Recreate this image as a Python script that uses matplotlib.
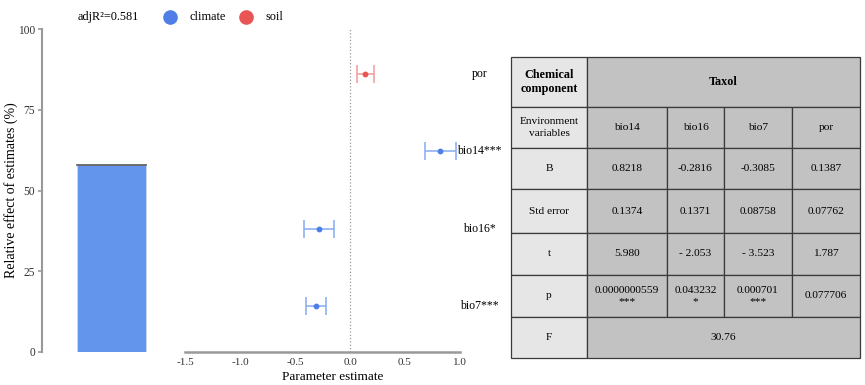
import matplotlib.pyplot as plt
from matplotlib.patches import Rectangle
import numpy as np

plt.rcParams['font.family'] = ['Liberation Serif', 'DejaVu Serif']

# 数据
variables = ['bio7', 'bio16', 'bio14', 'por']
labels = ['bio7***', 'bio16*', 'bio14***', 'por']
groups = ['climate', 'climate', 'climate', 'soil']
estimates = [-0.3085, -0.2816, 0.8218, 0.1387]
std_errors = [0.08758, 0.1371, 0.1374, 0.07762]
relative_effect = [58.0]  # climate 组所占比例
adj_r2 = 0.581

# 表格内容
tab_vars = ['bio14', 'bio16', 'bio7', 'por']
tab_B = ['0.8218', '-0.2816', '-0.3085', '0.1387']
tab_se = ['0.1374', '0.1371', '0.08758', '0.07762']
tab_t = ['5.980', '- 2.053', '- 3.523', '1.787']
tab_p = ['0.0000000559\n***', '0.043232\n*', '0.000701\n***', '0.077706']
tab_F = '30.76'

line_col = {'climate': '#8fb0f3', 'soil': '#f2a2a2'}
dot_col = {'climate': '#4f7fe6', 'soil': '#e85555'}

W, H = 865, 385
fig = plt.figure(figsize=(W / 100, H / 100), dpi=100)

def px_axes(x0, y0, x1, y1):
    return fig.add_axes([x0 / W, 1 - y1 / H, (x1 - x0) / W, (y1 - y0) / H])

# 左侧柱状图
ax_bar = px_axes(42, 29, 160, 352)
ax_bar.bar([0], relative_effect, width=1.0, color='#6495ed',
           edgecolor='#d0d8e8', linewidth=0.6)
ax_bar.plot([-0.5, 0.5], [relative_effect[0]] * 2, color='#555555', lw=1.2)
ax_bar.set_xlim(-1.007, 0.703)
ax_bar.set_ylim(0, 100)
ax_bar.set_yticks([0, 25, 50, 75, 100])
ax_bar.tick_params(axis='y', labelsize=8.3, colors='#333333', length=3,
                   color='#999999', width=1.2, pad=2)
ax_bar.set_xticks([])
for s in ['top', 'right', 'bottom']:
    ax_bar.spines[s].set_visible(False)
ax_bar.spines['left'].set_color('#999999')
ax_bar.spines['left'].set_linewidth(1.5)
ax_bar.set_ylabel('Relative effect of estimates (%)', fontsize=10, labelpad=0)

# 森林图
ax = px_axes(185, 28, 460, 352)
ypos = np.arange(1, len(variables) + 1)
for y, est, se, g in zip(ypos, estimates, std_errors, groups):
    ax.errorbar(est, y, xerr=se, fmt='none', ecolor=line_col[g],
                elinewidth=1.2, capsize=6.5, capthick=1.2)
    ax.plot(est, y, 'o', color=dot_col[g], ms=3.2)
ax.axvline(0, color='#999999', ls=':', lw=0.9)
ax.set_xlim(-1.5, 1.0)
ax.set_ylim(0.4, 4.6)
ax.set_yticks([])
ax.set_xticks([-1.5, -1.0, -0.5, 0.0, 0.5, 1.0])
ax.set_xticklabels(['-1.5', '-1.0', '-0.5', '0.0', '0.5', '1.0'])
ax.tick_params(axis='x', labelsize=8, colors='#333333', length=0, pad=4)
for s in ['top', 'right', 'left']:
    ax.spines[s].set_visible(False)
ax.spines['bottom'].set_color('#999999')
ax.spines['bottom'].set_linewidth(1.8)
ax.set_xlabel('Parameter estimate', fontsize=9.5)
ax.xaxis.set_label_coords((333 - 185) / 275, -0.058)
for y, lab in zip(ypos, labels):
    ax.text(1.07, y, lab, transform=ax.get_yaxis_transform(),
            ha='center', va='center', fontsize=8.5)

# 图例
fig.text(78 / W, 1 - 17 / H, 'adjR²=0.581', fontsize=8.8, va='center')
for cx, name in [(170, 'climate'), (246, 'soil')]:
    fig.add_artist(plt.Line2D([cx / W], [1 - 17 / H], marker='o', ms=9.5,
                              color=dot_col[name], ls='none'))
    fig.text((cx + 19) / W, 1 - 17 / H, name, fontsize=8.8, va='center')

# 表格
axt = fig.add_axes([0, 0, 1, 1])
axt.set_xlim(0, W)
axt.set_ylim(H, 0)
axt.axis('off')
xs = [511, 587, 667, 724, 792, 860]
ys = [57, 107, 148, 189, 233, 275, 317, 358]
c_first = '#e6e6e6'
c_body = '#c2c2c2'
edge = '#3a3a3a'

def cell(x0, x1, y0, y1, txt, fc, **kw):
    axt.add_patch(Rectangle((x0, y0), x1 - x0, y1 - y0, facecolor=fc,
                            edgecolor=edge, lw=0.9))
    axt.text((x0 + x1) / 2, (y0 + y1) / 2, txt, ha='center', va='center',
             fontsize=kw.pop('fontsize', 8.2), linespacing=1.3, **kw)

cell(xs[0], xs[1], ys[0], ys[1], 'Chemical\ncomponent', c_first,
     fontweight='bold', fontsize=8.7)
cell(xs[1], xs[-1], ys[0], ys[1], 'Taxol', c_body, fontweight='bold',
     fontsize=8.7)
rows = [('Environment\nvariables', tab_vars), ('B', tab_B),
        ('Std error', tab_se), ('t', tab_t), ('p', tab_p)]
for r, (name, vals) in enumerate(rows):
    y0, y1 = ys[r + 1], ys[r + 2]
    cell(xs[0], xs[1], y0, y1, name, c_first)
    for c, v in enumerate(vals):
        cell(xs[c + 1], xs[c + 2], y0, y1, v, c_body)
cell(xs[0], xs[1], ys[6], ys[7], 'F', c_first)
cell(xs[1], xs[-1], ys[6], ys[7], tab_F, c_body)

plt.savefig('out.png', dpi=100)
